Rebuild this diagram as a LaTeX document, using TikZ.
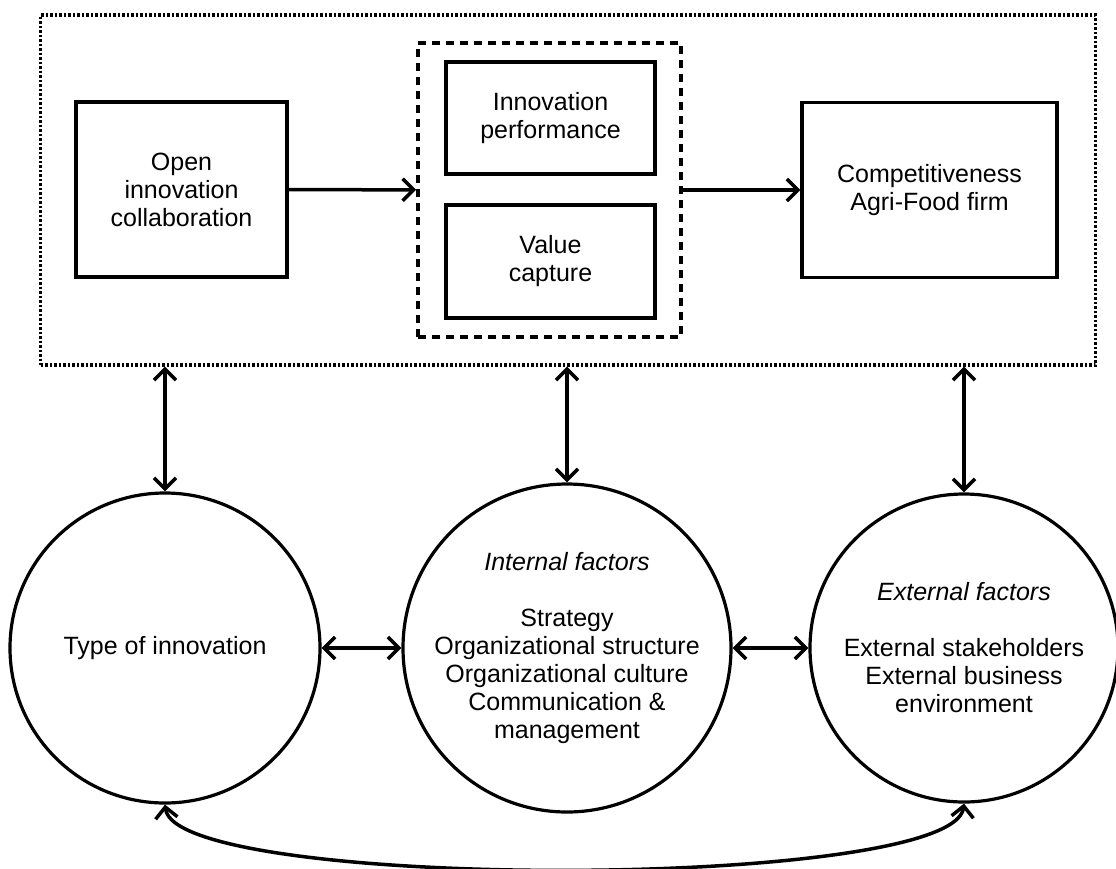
\documentclass[tikz,border=0pt]{standalone}
\usepackage{fontspec}
\setmainfont{Liberation Sans}
\usetikzlibrary{arrows.meta, positioning}

\begin{document}
\begin{tikzpicture}[
  x=1pt, y=-1pt,
  font=\fontsize{25}{28}\selectfont,
  >={Straight Barb[length=11pt,width=22pt,line width=3.5pt]},
  box/.style={draw, line width=3.5pt, align=center, inner sep=0pt},
  factor/.style={circle, draw, line width=3.2pt, align=center, inner sep=0pt},
  link/.style={<->, line width=3.5pt}]

  \useasboundingbox (0,0) rectangle (1116,868);

  % outer frame and the grouped outcome boxes
  \node[draw, line width=3.2pt, dash pattern=on 2.5pt off 2pt, minimum width=1055pt, minimum height=350pt] (frame) at (568,190) {};
  \node[draw, line width=3.8pt, dash pattern=on 8pt off 6pt, minimum width=263pt, minimum height=294pt] (grp) at (549.5,190) {};

  \node[box, minimum width=211pt, minimum height=175pt] (open) at (181.5,189.5) {Open\\innovation\\collaboration};
  \node[box, minimum width=209pt, minimum height=112pt] (perf) at (550.5,118) {Innovation\\performance};
  \node[box, minimum width=209pt, minimum height=113pt] (value) at (550.5,261.5) {Value\\capture};
  \node[box, minimum width=255pt, minimum height=175pt] (comp) at (929.5,190) {Competitiveness\\Agri-Food firm};

  % factors
  \node[factor, minimum size=310pt] (type) at (165,648) {Type of innovation};
  \node[factor, minimum size=328pt] (intf) at (567,648) {\textit{Internal factors}\\[28pt]Strategy\\Organizational structure\\Organizational culture\\Communication \&\\management};
  \node[factor, minimum size=308pt] (extf) at (964,648) {\textit{External factors}\\[28pt]External stakeholders\\External business\\environment};

  \draw[->, line width=3.5pt] (open) -- (grp);
  \draw[->, line width=3.5pt] (grp) -- (comp);

  \draw[link] (type.north) -- (type.north |- frame.south);
  \draw[link] (intf.north) -- (intf.north |- frame.south);
  \draw[link] (extf.north) -- (extf.north |- frame.south);

  \draw[link] (type) -- (intf);
  \draw[link] (intf) -- (extf);

  \draw[link] (type.south) .. controls +(10,87) and +(-10,87) .. (extf.south);
\end{tikzpicture}
\end{document}
